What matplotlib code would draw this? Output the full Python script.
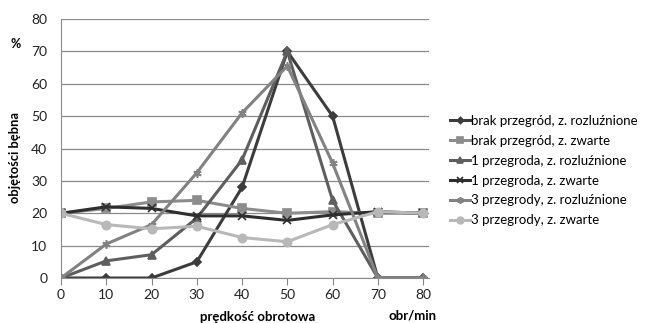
import matplotlib.pyplot as plt

predkosc = [0, 10, 20, 30, 40, 50, 60, 70, 80]

brak_rozl = [0, 0, 0, 5, 28, 70, 50, 0, 0]
brak_zwarte = [20, 21.5, 23.5, 24, 21.5, 20, 20.5, 20, 20]
p1_rozl = [0, 5.3, 7.2, 18.5, 36.5, 70, 24, 0, 0]
p1_zwarte = [20, 22, 21.5, 19.2, 19.2, 17.8, 19.5, 20.5, 20]
p3_rozl = [0, 10.5, 16.5, 32.5, 51, 65.5, 35.5, 0, 0]
p3_zwarte = [20, 16.5, 15.2, 16, 12.5, 11.2, 16.5, 20.5, 20]

nazwy = ["brak przegród, z. rozluźnione", "brak przegród, z. zwarte",
         "1 przegroda, z. rozluźnione", "1 przegroda, z. zwarte",
         "3 przegrody, z. rozluźnione", "3 przegrody, z. zwarte"]

serie = [brak_rozl, brak_zwarte, p1_rozl, p1_zwarte, p3_rozl, p3_zwarte]
kolory = ["#3c3c3c", "#8c8c8c", "#5e5e5e", "#2e2e2e", "#828282", "#b8b8b8"]
markery = ["D", "s", "^", "x", (6, 2, 0), "o"]
rozmiary = [4, 6, 6, 6, 6, 6]

plt.rcParams['font.family'] = ['Lato', 'DejaVu Sans']

fig = plt.figure(figsize=(6.45, 3.23), dpi=100)
ax = fig.add_axes([0.0946, 0.1393, 0.5705, 0.8017])

for y, nazwa, c, m, ms in zip(serie, nazwy, kolory, markery, rozmiary):
    ax.plot(predkosc, y, color=c, lw=2.2, marker=m, ms=ms, mew=1.2,
            mfc=c, mec=c, label=nazwa)

ax.set_xlim(0, 81.3)
ax.set_ylim(0, 80)
ax.set_xticks(predkosc)
ax.set_yticks(range(0, 81, 10))
ax.tick_params(axis='y', length=0, labelsize=10, pad=10, colors='#222222')
ax.tick_params(axis='x', length=5, labelsize=10, pad=3, colors='#222222')
ax.tick_params(axis='x', color='#888888')
ax.yaxis.grid(True, color='#8a8a8a', lw=0.9)
ax.set_axisbelow(True)
for s in ['top', 'right']:
    ax.spines[s].set_visible(False)
ax.spines['left'].set_color('#8a8a8a')
ax.spines['bottom'].set_color('#8a8a8a')

fig.text(0.024, 0.513, "objętości bębna", rotation=90, ha='center', va='center',
         fontsize=9.3, fontweight='bold')
fig.text(0.024, 0.864, "%", ha='center', va='center', fontsize=9, fontweight='bold')
fig.text(0.40, 0.019, "prędkość obrotowa", ha='center', va='center',
         fontsize=9.5, fontweight='bold')
fig.text(0.639, 0.004, "obr/min", ha='center', va='bottom', fontsize=9.5, fontweight='bold')

ax.legend(loc='center left', bbox_to_anchor=(0.698, 0.472), bbox_transform=fig.transFigure,
          frameon=False, fontsize=9.5, handlelength=1.5, handletextpad=0.1,
          labelspacing=0.6, borderaxespad=0, borderpad=0, markerscale=0.8)

fig.savefig("out.png", dpi=100)
